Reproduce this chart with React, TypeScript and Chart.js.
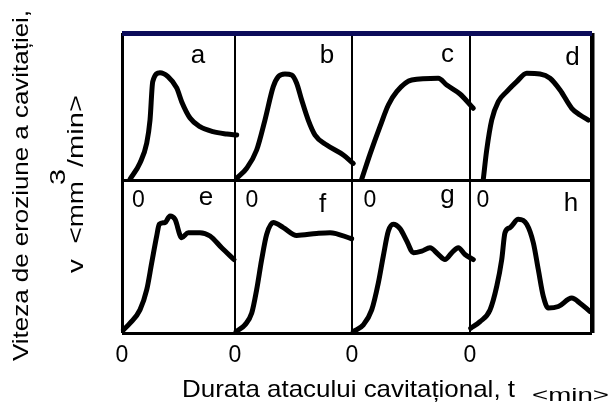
import React, { useEffect, useRef } from 'react';
import { Chart, registerables } from 'chart.js';

Chart.register(...registerables);

// Panel curves: t = % of panel duration, v = % of panel rate
const tA = [7.1, 15.9, 21.9, 24.8, 27.2, 33.6, 40.7, 48.4, 52.8, 60.2, 69.0, 80.5, 92.7, 101.5];
const vA = [0.5, 11.6, 25.2, 40.8, 66.9, 73.0, 70.3, 62.6, 53.3, 42.2, 36.3, 32.9, 31.3, 30.6];

const tB = [1.5, 10.0, 18.5, 25.6, 32.7, 37.0, 42.7, 48.4, 52.7, 57.0, 62.6, 68.4, 78.4, 92.6, 101.1];
const vB = [1.2, 8.0, 20.4, 40.8, 63.5, 70.3, 72.1, 71.4, 65.8, 54.4, 40.8, 30.6, 23.8, 17.0, 11.3];

const tC = [8.2, 15.5, 23.7, 30.8, 37.9, 50.6, 73.1, 80.3, 91.5, 102.8];
const vC = [0.5, 18.1, 36.3, 51.0, 60.1, 68.0, 69.2, 64.6, 58.5, 48.8];

const tD = [10.9, 13.7, 17.8, 23.2, 30.1, 38.3, 46.5, 57.4, 65.6, 73.8, 83.4, 90.2, 97.0];
const vD = [0.5, 20.4, 40.8, 53.3, 60.1, 66.9, 72.6, 72.1, 69.2, 61.2, 48.8, 44.2, 40.8];

const tE = [1.2, 7.1, 15.9, 21.9, 26.3, 30.7, 33.0, 38.1, 42.5, 46.9, 52.8, 58.7, 69.0, 77.9, 88.2, 99.1];
const vE = [2.0, 6.4, 15.1, 28.3, 45.9, 63.4, 71.1, 72.2, 76.5, 74.3, 62.3, 65.6, 65.6, 63.4, 55.7, 48.0];

const tF = [0.9, 8.5, 14.3, 18.5, 22.8, 27.1, 32.7, 41.3, 52.7, 69.8, 81.2, 99.7];
const vF = [0.9, 5.3, 13.0, 28.3, 48.0, 64.5, 72.2, 68.9, 63.8, 65.1, 65.6, 61.6];

const tG = [1.1, 9.6, 16.7, 22.3, 26.5, 30.8, 35.0, 40.7, 46.4, 52.0, 59.1, 66.1, 73.2, 78.8, 84.5, 90.1, 95.8, 102.8];
const vG = [0.9, 5.3, 15.1, 32.7, 50.2, 66.6, 71.1, 68.2, 60.1, 52.4, 53.5, 55.7, 51.3, 48.0, 52.4, 55.7, 51.3, 48.0];

const tH = [0.6, 8.2, 16.4, 21.9, 26.0, 28.7, 32.8, 39.6, 46.5, 51.9, 56.0, 60.1, 64.2, 72.4, 83.4, 90.2, 98.4];
const vH = [3.1, 7.4, 15.1, 30.5, 48.0, 65.6, 68.9, 74.3, 71.1, 59.0, 41.4, 23.9, 16.3, 17.3, 22.8, 19.5, 14.0];

const panelLetters = ['a', 'b', 'c', 'd', 'e', 'f', 'g', 'h'];
const xTickLabels = ['0', '0', '0', '0', ''];
const innerZeroLabels = ['0', '0', '0', '0'];

const yTitle = 'Viteza de eroziune a cavitației,';
const yUnitA = 'v  <mm';
const yUnitSup = '3';
const yUnitB = '/min>';
const xTitle = 'Durata atacului cavitațional, t';
const xUnit = '<min>';

// Layout (axis units of the shared grid)
const COL_EDGES = [0, 113, 230, 348, 470];
const ROW_EDGES = [0, 153, 300];

const panels = [
  { t: tA, v: vA, col: 0, row: 1 },
  { t: tB, v: vB, col: 1, row: 1 },
  { t: tC, v: vC, col: 2, row: 1 },
  { t: tD, v: vD, col: 3, row: 1 },
  { t: tE, v: vE, col: 0, row: 0 },
  { t: tF, v: vF, col: 1, row: 0 },
  { t: tG, v: vG, col: 2, row: 0 },
  { t: tH, v: vH, col: 3, row: 0 },
];

// letter offsets: [dx from column left, baseline dy from row top]
const LETTER_POS = [
  [76, 30], [92, 30], [95.5, 29], [102.5, 32],
  [84, 25], [87.5, 31.5], [95.5, 23], [101, 30.5],
];
const INNER_ZERO_DX = [16.3, 17, 18, 13];

const FONT = '"Liberation Sans", Arial, Helvetica, sans-serif';

function fitText(ctx: CanvasRenderingContext2D, text: string, x: number, y: number, width: number, fontPx: number, vertical: boolean) {
  ctx.font = `${fontPx}px ${FONT}`;
  const w = ctx.measureText(text).width;
  ctx.save();
  ctx.translate(x, y);
  if (vertical) ctx.rotate(-Math.PI / 2);
  ctx.scale(width / w, 1);
  ctx.textAlign = 'left';
  ctx.textBaseline = 'alphabetic';
  ctx.fillText(text, 0, 0);
  ctx.restore();
}

const textPlugin = {
  id: 'panelText',
  afterDraw(chart: any) {
    const ctx: CanvasRenderingContext2D = chart.ctx;
    const xs = chart.scales.x;
    const ys = chart.scales.y;
    ctx.save();
    ctx.fillStyle = '#000';
    ctx.textBaseline = 'alphabetic';
    ctx.textAlign = 'center';
    // panel letters
    ctx.font = `26px ${FONT}`;
    panels.forEach((p, i) => {
      const left = xs.getPixelForValue(COL_EDGES[p.col]);
      const top = ys.getPixelForValue(ROW_EDGES[p.row + 1]);
      ctx.fillText(panelLetters[i], left + LETTER_POS[i][0], top + LETTER_POS[i][1]);
    });
    // inner zeros (top row's time origin)
    ctx.font = `23px ${FONT}`;
    const midY = ys.getPixelForValue(ROW_EDGES[1]);
    innerZeroLabels.forEach((lab, c) => {
      const left = xs.getPixelForValue(COL_EDGES[c]);
      ctx.fillText(lab, left + INNER_ZERO_DX[c], midY + 27);
    });
    // titles
    fitText(ctx, yTitle, 28, 361, 351, 22, true);
    fitText(ctx, yUnitA, 83, 273, 92, 22, true);
    fitText(ctx, yUnitSup, 65, 185, 16, 22, true);
    fitText(ctx, yUnitB, 83, 167, 72, 22, true);
    fitText(ctx, xTitle, 182, 397, 333, 24, false);
    fitText(ctx, xUnit, 532, 401, 77, 19, false);
    ctx.restore();
  },
};

export default function App() {
  const ref = useRef<HTMLCanvasElement | null>(null);

  useEffect(() => {
    if (!ref.current) return;
    const datasets = panels.map((p, i) => {
      const x0 = COL_EDGES[p.col];
      const x1 = COL_EDGES[p.col + 1];
      const y0 = ROW_EDGES[p.row];
      const y1 = ROW_EDGES[p.row + 1];
      return {
        label: panelLetters[i],
        data: p.t.map((t, k) => ({ x: x0 + (t / 100) * (x1 - x0), y: y0 + (p.v[k] / 100) * (y1 - y0) })),
        borderColor: '#000',
        borderWidth: 5,
        borderJoinStyle: 'round' as const,
        borderCapStyle: 'round' as const,
        pointRadius: 0,
        cubicInterpolationMode: 'monotone' as const,
        fill: false,
        clip: false as any,
      };
    });

    const chart = new Chart(ref.current, {
      type: 'line',
      data: { datasets },
      plugins: [textPlugin],
      options: {
        responsive: false,
        animation: false,
        events: [],
        layout: { padding: { top: 33, right: 20, left: 0, bottom: 0 } },
        plugins: { legend: { display: false }, tooltip: { enabled: false }, title: { display: false } },
        scales: {
          x: {
            type: 'linear',
            min: COL_EDGES[0],
            max: COL_EDGES[COL_EDGES.length - 1],
            afterBuildTicks: (scale: any) => {
              scale.ticks = COL_EDGES.map((v) => ({ value: v }));
            },
            afterFit: (scale: any) => {
              scale.height = 79;
            },
            border: { display: false },
            grid: {
              drawTicks: false,
              color: '#000',
              lineWidth: (c: any) => (c.index === 0 ? 3 : c.index === COL_EDGES.length - 1 ? 4.5 : 2),
            },
            ticks: {
              padding: 9,
              color: '#000',
              font: { family: FONT, size: 23 },
              maxRotation: 0,
              autoSkip: false,
              callback: (_v: any, i: number) => xTickLabels[i],
            },
          },
          y: {
            type: 'linear',
            min: ROW_EDGES[0],
            max: ROW_EDGES[ROW_EDGES.length - 1],
            afterBuildTicks: (scale: any) => {
              scale.ticks = ROW_EDGES.map((v) => ({ value: v }));
            },
            afterFit: (scale: any) => {
              scale.width = 122;
            },
            border: { display: false },
            grid: {
              drawTicks: false,
              color: (c: any) => (c.index === ROW_EDGES.length - 1 ? '#0c0c5a' : '#000'),
              lineWidth: (c: any) => (c.index === ROW_EDGES.length - 1 ? 5 : 3),
            },
            ticks: { display: false },
          },
        },
      },
    });
    return () => chart.destroy();
  }, []);

  return (
    <div style={{ position: 'absolute', left: 0, top: 0, width: 612, height: 412, background: '#fff' }}>
      <canvas ref={ref} width={612} height={412} style={{ width: 612, height: 412 }} />
    </div>
  );
}
